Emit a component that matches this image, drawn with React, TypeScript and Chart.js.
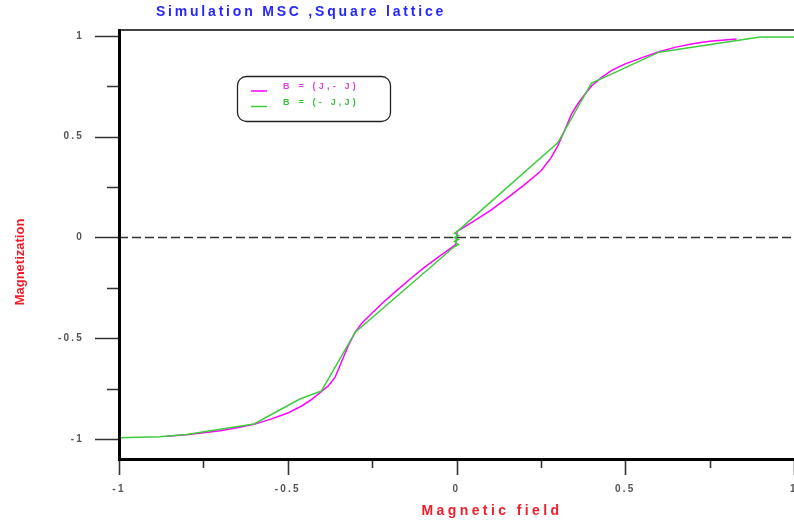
import { useEffect, useRef } from 'react';
import { Chart, registerables } from 'chart.js';

Chart.register(...registerables);

const chartTitle = 'Simulation MSC ,Square lattice';
const xAxisTitle = 'Magnetic field';
const yAxisTitle = 'Magnetization';
const seriesNames = ['B = (J,- J)', 'B = (- J,J)'];
const seriesColors = ['#ff00ff', '#3ccc3c'];
const legendTextColors = ['#e23ce2', '#3cc03c'];

const magentaX = [-0.86, -0.8, -0.75, -0.7, -0.65, -0.6, -0.55, -0.5, -0.46, -0.43, -0.4, -0.38, -0.36, -0.34, -0.32, -0.3, -0.28, -0.25, -0.22, -0.18, -0.14, -0.1, -0.05, -0.002, 0.002, 0.05, 0.1, 0.15, 0.2, 0.25, 0.28, 0.3, 0.32, 0.34, 0.36, 0.38, 0.4, 0.43, 0.46, 0.5, 0.55, 0.6, 0.65, 0.7, 0.75, 0.83];
const magentaY = [-0.987, -0.979, -0.97, -0.96, -0.945, -0.928, -0.902, -0.872, -0.838, -0.805, -0.765, -0.737, -0.695, -0.615, -0.535, -0.47, -0.425, -0.375, -0.327, -0.268, -0.21, -0.155, -0.093, -0.035, 0.03, 0.08, 0.133, 0.195, 0.26, 0.33, 0.395, 0.455, 0.53, 0.61, 0.665, 0.71, 0.752, 0.795, 0.83, 0.862, 0.893, 0.922, 0.945, 0.962, 0.974, 0.985];

const greenX = [-1, -0.88, -0.8, -0.6, -0.464, -0.4, -0.3, -0.006, 0.006, -0.006, 0.006, -0.006, 0.006, -0.006, 0.006, 0.3, 0.4, 0.467, 0.6, 0.9, 1];
const greenY = [-0.995, -0.99, -0.978, -0.926, -0.802, -0.762, -0.47, -0.045, -0.035, -0.02, -0.01, 0.0, 0.01, 0.02, 0.035, 0.47, 0.767, 0.817, 0.92, 0.995, 0.995];

const zeroLineX = [-1, 1];
const zeroLineY = [0, 0];

const xMajorTicks = [-1, -0.5, 0, 0.5, 1];
const xMinorTicks = [-0.75, -0.25, 0.25, 0.75];
const xTickLabels = ['-1', '-0.5', '0', '0.5', '1'];
const yMajorTicks = [-1, -0.5, 0, 0.5, 1];
const yMinorTicks = [-0.75, -0.25, 0.25, 0.75];
const yTickLabels = ['-1', '-0.5', '0', '0.5', '1'];

const FONT = 'Arial, "Liberation Sans", sans-serif';

const toPoints = (xs: number[], ys: number[]) => xs.map((x, i) => ({ x, y: ys[i] }));

const decorPlugin = {
  id: 'decor',
  beforeDraw(chart: any) {
    chart.ctx.letterSpacing = '2.2px';
  },
  afterDraw(chart: any) {
    const ctx = chart.ctx as CanvasRenderingContext2D & { letterSpacing: string };
    const { chartArea: a } = chart;
    const xs = chart.scales.x;
    const ys = chart.scales.y;
    ctx.save();
    ctx.letterSpacing = '0px';
    // top border
    ctx.strokeStyle = '#444';
    ctx.lineWidth = 2;
    ctx.beginPath();
    ctx.moveTo(a.left, a.top);
    ctx.lineTo(a.right, a.top);
    ctx.stroke();
    // ticks
    ctx.strokeStyle = '#333';
    ctx.lineWidth = 1.6;
    ctx.beginPath();
    yMajorTicks.forEach((v) => {
      const p = Math.round(ys.getPixelForValue(v)) + 0.5;
      ctx.moveTo(a.left - 24, p);
      ctx.lineTo(a.left, p);
    });
    yMinorTicks.forEach((v) => {
      const p = Math.round(ys.getPixelForValue(v)) + 0.5;
      ctx.moveTo(a.left - 12, p);
      ctx.lineTo(a.left, p);
    });
    xMajorTicks.forEach((v) => {
      const p = Math.round(xs.getPixelForValue(v)) + 0.5;
      ctx.moveTo(p, a.bottom);
      ctx.lineTo(p, a.bottom + 16);
    });
    xMinorTicks.forEach((v) => {
      const p = Math.round(xs.getPixelForValue(v)) + 0.5;
      ctx.moveTo(p, a.bottom);
      ctx.lineTo(p, a.bottom + 9);
    });
    ctx.stroke();
    // axes
    ctx.strokeStyle = '#000';
    ctx.lineWidth = 3;
    ctx.beginPath();
    ctx.moveTo(a.left + 0.5, a.top - 1);
    ctx.lineTo(a.left + 0.5, a.bottom + 1.5);
    ctx.moveTo(a.left - 1, a.bottom + 0.5);
    ctx.lineTo(a.right, a.bottom + 0.5);
    ctx.stroke();

    // title
    ctx.fillStyle = '#2626ff';
    ctx.font = `bold 14px ${FONT}`;
    ctx.letterSpacing = '2.8px';
    ctx.textAlign = 'center';
    ctx.textBaseline = 'middle';
    ctx.fillText(chartTitle, 301, 12);

    // x title
    ctx.fillStyle = '#f01e2a';
    ctx.font = `bold 14px ${FONT}`;
    ctx.letterSpacing = '3.4px';
    ctx.fillText(xAxisTitle, 492, 511);

    // y title
    ctx.save();
    ctx.translate(20, 262);
    ctx.rotate(-Math.PI / 2);
    ctx.letterSpacing = '0px';
    ctx.font = `bold 13px ${FONT}`;
    ctx.fillText(yAxisTitle, 0, 0);
    ctx.restore();

    // legend
    ctx.strokeStyle = '#222';
    ctx.lineWidth = 1.3;
    ctx.beginPath();
    (ctx as any).roundRect(237.5, 76.5, 153, 45, 9);
    ctx.stroke();
    ctx.font = `bold 9px ${FONT}`;
    ctx.letterSpacing = '3.2px';
    ctx.textAlign = 'left';
    seriesNames.forEach((name, i) => {
      const y = 87 + i * 15.5;
      ctx.strokeStyle = seriesColors[i];
      ctx.lineWidth = 1.5;
      ctx.beginPath();
      ctx.moveTo(251, y + 4);
      ctx.lineTo(267, y + 4);
      ctx.stroke();
      ctx.fillStyle = legendTextColors[i];
      ctx.fillText(name, 283, y);
    });
    ctx.restore();
    ctx.letterSpacing = '0px';
  },
};

export default function App() {
  const ref = useRef<HTMLCanvasElement>(null);
  useEffect(() => {
    if (!ref.current) return;
    const chart = new Chart(ref.current, {
      type: 'line',
      data: {
        datasets: [
          {
            label: seriesNames[0],
            data: toPoints(magentaX, magentaY),
            borderColor: seriesColors[0],
            borderWidth: 1.5,
            pointRadius: 0,
            tension: 0,
            fill: false,
            order: 1,
          },
          {
            label: seriesNames[1],
            data: toPoints(greenX, greenY),
            borderColor: seriesColors[1],
            borderWidth: 1.5,
            pointRadius: 0,
            tension: 0,
            fill: false,
            order: 0,
          },
          {
            label: 'zero',
            data: toPoints(zeroLineX, zeroLineY),
            borderColor: '#333',
            borderWidth: 1.5,
            borderDash: [9, 4],
            pointRadius: 0,
            fill: false,
            order: 2,
          },
        ],
      } as any,
      options: {
        animation: false,
        responsive: false,
        devicePixelRatio: 1,
        parsing: false as any,
        layout: { padding: { top: 30, right: 0, left: 0, bottom: 0 }, autoPadding: false } as any,
        plugins: {
          legend: { display: false },
          title: { display: false },
          tooltip: { enabled: false },
        },
        scales: {
          x: {
            type: 'linear',
            min: -1,
            max: 1,
            grid: { display: false, drawTicks: false },
            border: { display: false },
            afterBuildTicks: (s: any) => {
              s.ticks = xMajorTicks.map((v) => ({ value: v }));
            },
            ticks: {
              callback: (v: any) => xTickLabels[xMajorTicks.indexOf(Number(v))],
              padding: 24,
              font: { size: 10, family: FONT, weight: 'bold' },
              color: '#555',
              maxRotation: 0,
              autoSkip: false,
            },
            afterFit: (s: any) => {
              s.height = 66;
              s.paddingLeft = 0;
              s.paddingRight = 0;
            },
          },
          y: {
            type: 'linear',
            min: -1.1,
            max: 1.03,
            grid: { display: false, drawTicks: false },
            border: { display: false },
            afterBuildTicks: (s: any) => {
              s.ticks = yMajorTicks.map((v) => ({ value: v }));
            },
            ticks: {
              callback: (v: any) => yTickLabels[yMajorTicks.indexOf(Number(v))],
              padding: 35,
              font: { size: 10, family: FONT, weight: 'bold' },
              color: '#555',
              autoSkip: false,
            },
            afterFit: (s: any) => {
              s.width = 119;
              s.paddingTop = 0;
              s.paddingBottom = 0;
            },
          },
        },
      } as any,
      plugins: [decorPlugin],
    });
    return () => chart.destroy();
  }, []);
  return (
    <div style={{ position: 'absolute', left: 0, top: 0, width: 794, height: 525, background: '#fff' }}>
      <canvas ref={ref} width={794} height={525} style={{ display: 'block', width: 794, height: 525 }} />
    </div>
  );
}
